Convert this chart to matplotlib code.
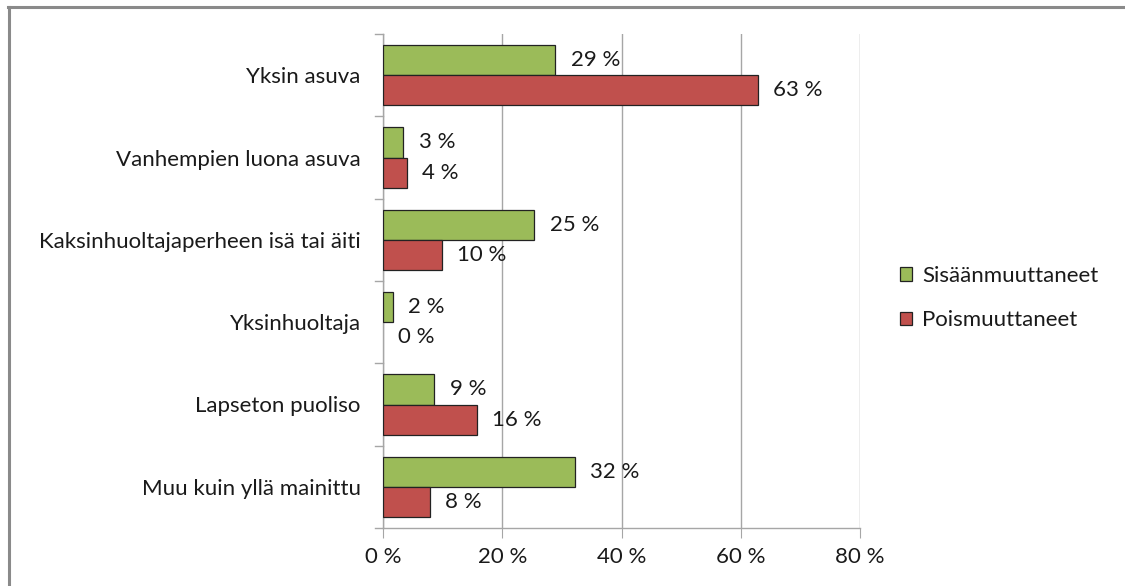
import numpy as np
import matplotlib.pyplot as plt
from matplotlib.lines import Line2D
from matplotlib.patches import Patch

plt.rcParams['font.family'] = ['Lato', 'DejaVu Sans']

categories = ["Yksin asuva", "Vanhempien luona asuva", "Kaksinhuoltajaperheen isä tai äiti",
              "Yksinhuoltaja", "Lapseton puoliso", "Muu kuin yllä mainittu"]
sisaan = [28.9, 3.4, 25.4, 1.7, 8.6, 32.2]
pois = [62.9, 4.0, 9.9, 0.0, 15.8, 7.9]
series_names = ["Sisäänmuuttaneet", "Poismuuttaneet"]
xticks = [0, 20, 40, 60, 80]

green = "#9BBB59"
red = "#C0504D"
grid_c = "#a6a6a6"
txt_c = "#1a1a1a"
fs = 16

fig = plt.figure(figsize=(11.25, 5.86), dpi=100)
ax = fig.add_axes([383 / 1125, 1 - 528 / 586, (860 - 383) / 1125, (528 - 34) / 586])

y = np.arange(len(categories))
h = 0.365
for vals, off, col in ((sisaan, -h / 2, green), (pois, h / 2, red)):
    # no outline on empty bars
    lw = [0.9 if v > 0 else 0 for v in vals]
    ax.barh(y + off, vals, height=h, color=col, edgecolor="#222222", linewidth=lw, zorder=3)

for i in range(len(categories)):
    for v, off in ((sisaan[i], -h / 2), (pois[i], h / 2)):
        ax.annotate(f"{v:.0f} %", (v, y[i] + off), xytext=(11, 0), textcoords="offset points",
                    va="center", ha="left", fontsize=fs, color=txt_c, zorder=4)

ax.set_xlim(0, 80)
ax.set_ylim(len(categories) - 0.5, -0.5)
ax.set_xticks(xticks)
ax.set_xticklabels([f"{t} %" for t in xticks], fontsize=fs, color=txt_c)
ax.xaxis.grid(True, color=grid_c, linewidth=1.0, zorder=0)

# category labels in the middle, tick marks on the boundaries
ax.set_yticks(y)
ax.set_yticklabels(categories, fontsize=fs, color=txt_c)
ax.tick_params(axis="y", length=0, pad=16)
for b in np.arange(-0.5, len(categories), 1.0):
    ax.add_line(Line2D([-1.3, 0], [b, b], color=grid_c, linewidth=1.0, clip_on=False))
ax.tick_params(axis="x", length=7, color=grid_c, pad=7)

for s in ["top", "right"]:
    ax.spines[s].set_visible(False)
for s in ["left", "bottom"]:
    ax.spines[s].set_color(grid_c)
    ax.spines[s].set_linewidth(1.0)

handles = [Patch(facecolor=green, edgecolor="#222222", linewidth=0.9),
           Patch(facecolor=red, edgecolor="#222222", linewidth=0.9)]
fig.legend(handles, series_names, loc="center left", bbox_to_anchor=(880 / 1125, 1 - 298 / 586),
           frameon=False, fontsize=fs, handlelength=0.55, handleheight=0.55,
           handletextpad=0.45, labelspacing=1.1, labelcolor=txt_c)

# outer chart frame
fig.add_artist(Line2D([8 / 1125, 1], [1 - 7 / 586, 1 - 7 / 586], color="#8a8a8a", linewidth=2.2))
fig.add_artist(Line2D([9 / 1125, 9 / 1125], [0, 1 - 7 / 586], color="#8a8a8a", linewidth=2.2))

fig.savefig("out.png", dpi=100, facecolor="white")
